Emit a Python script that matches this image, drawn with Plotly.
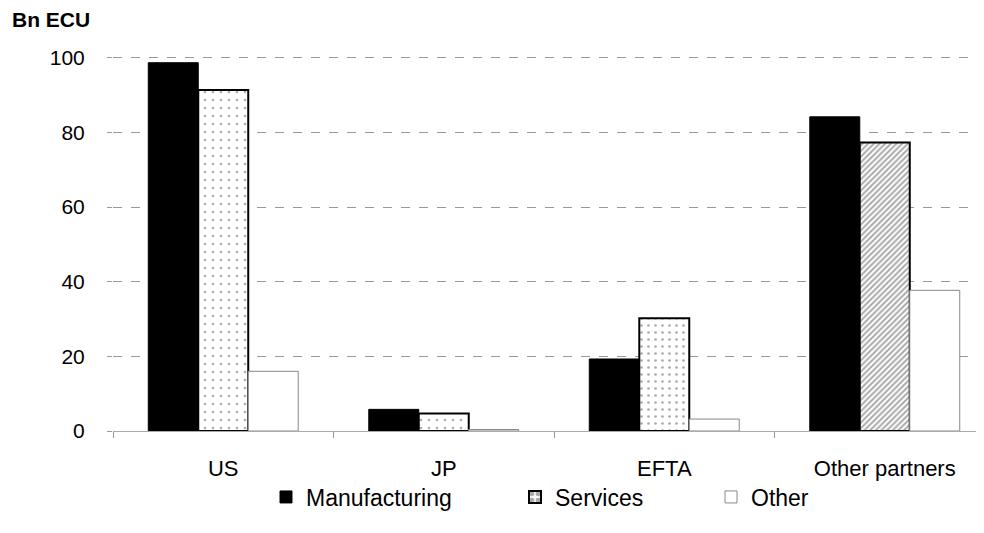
import plotly.graph_objects as go

categories = ["US", "JP", "EFTA", "Other partners"]
manufacturing = [98.7, 5.8, 19.3, 84.2]
services = [91.4, 4.7, 30.2, 77.3]
other = [16.0, 0.4, 3.2, 37.7]
y_ticks = [0, 20, 40, 60, 80, 100]

font = "Liberation Sans, Arial, sans-serif"

# page body has an 8px margin; plot area on screen: x 113..984, y 56..431
L, R, T, B = 105, 8, 48, 110
PW = 984 - L - R
PH = 533 - T - B


def fx(screen_x):
    return (screen_x - 8 - L) / PW


def fy(screen_y):
    return (533 - B + 8 - screen_y) / PH


fig = go.Figure()
fig.add_trace(go.Bar(
    x=categories, y=manufacturing, name="Manufacturing", legend="legend",
    marker=dict(color="#000000", line=dict(color="#000000", width=1)),
))
fig.add_trace(go.Bar(
    x=categories, y=services, name="Services", legend="legend2",
    marker=dict(
        color="#ffffff",
        line=dict(color="#000000", width=2),
        pattern=dict(shape=[".", ".", ".", "/"], fgcolor="#555555", bgcolor="#ffffff",
                     size=[8, 8, 7, 4], solidity=[0.08, 0.08, 0.12, 0.5]),
    ),
))
fig.add_trace(go.Bar(
    x=categories, y=other, name="Other", legend="legend3",
    marker=dict(color="#ffffff", line=dict(color="#888888", width=1)),
))

leg_common = dict(orientation="h", yanchor="middle", y=fy(497), xanchor="left",
                  font=dict(size=23), bgcolor="rgba(0,0,0,0)")

fig.update_layout(
    width=984, height=533,
    paper_bgcolor="#ffffff", plot_bgcolor="#ffffff",
    barmode="group", bargap=0.32, bargroupgap=0,
    margin=dict(l=L, r=R, t=T, b=B, autoexpand=False),
    font=dict(family=font, size=22, color="#000000"),
    showlegend=True,
    legend=dict(x=fx(266), **leg_common),
    legend2=dict(x=fx(515), **leg_common),
    legend3=dict(x=fx(711), **leg_common),
    annotations=[dict(
        text="<b>Bn ECU</b>", xref="paper", yref="paper",
        x=fx(10), y=fy(20),
        xanchor="left", yanchor="middle", showarrow=False,
        font=dict(size=21, family=font),
    )],
)
fig.update_xaxes(
    range=[-0.5, 3.45], showgrid=False,
    showline=True, linecolor="#aaaaaa", linewidth=1,
    ticks="outside", tickson="boundaries", ticklen=6, tickcolor="#999999",
    ticklabelstandoff=18, tickfont=dict(size=22),
)
fig.update_yaxes(
    range=[0, 100.5], tickvals=y_ticks,
    showgrid=True, gridcolor="#999999", gridwidth=1, griddash="dash",
    zeroline=False, showline=False,
    ticks="outside", ticklen=5, tickcolor="#999999",
    ticklabelstandoff=18, tickfont=dict(size=21),
)

fig.write_html("out.html")
